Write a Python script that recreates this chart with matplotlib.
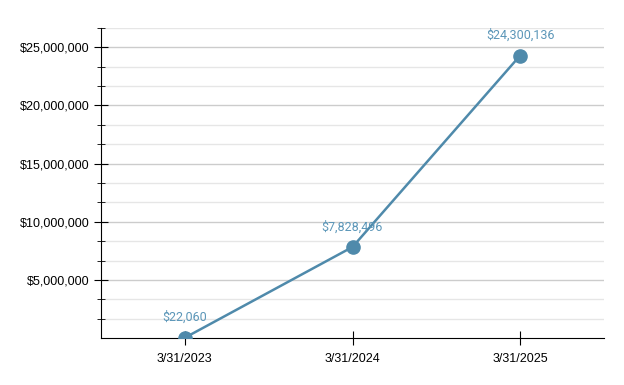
import numpy as np
import matplotlib.pyplot as plt
from matplotlib.ticker import FuncFormatter, FixedLocator

dates = ["3/31/2023", "3/31/2024", "3/31/2025"]
values = [22060, 7828496, 24300136]
labels = ["$22,060", "$7,828,496", "$24,300,136"]

fig = plt.figure(figsize=(6.24, 3.85), dpi=100)
ax = fig.add_axes([101 / 624, 1 - 338 / 385, 503 / 624, 310 / 385])

x = np.arange(len(dates))
ax.plot(x, values, color="#4f8aab", lw=1.8, marker="o", ms=9.5, zorder=3)

for xi, v, t in zip(x, values, labels):
    ax.annotate(t, (xi, v), xytext=(0, 12), textcoords="offset points", ha="center",
                color="#5b96b8", fontsize=9, family="Roboto", annotation_clip=False)

ax.set_xlim(-0.5, 2.5)
ax.set_ylim(0, 80e6 / 3)
ax.set_xticks(x)
ax.set_xticklabels(dates)
step = 5e6 / 3
ax.yaxis.set_major_locator(FixedLocator([5e6, 10e6, 15e6, 20e6, 25e6]))
ax.yaxis.set_minor_locator(FixedLocator([i * step for i in range(1, 17) if i % 3 != 0]))
ax.yaxis.set_major_formatter(FuncFormatter(lambda v, p: f"${v:,.0f}"))

ax.grid(axis="y", which="major", color="#cccccc", lw=1)
ax.grid(axis="y", which="minor", color="#e6e6e6", lw=1)
ax.set_axisbelow(True)

for s in ["top", "right"]:
    ax.spines[s].set_visible(False)
for s in ["left", "bottom"]:
    ax.spines[s].set_color("black")

ax.tick_params(axis="y", which="major", direction="inout", length=10, labelsize=9)
ax.tick_params(axis="y", which="minor", direction="inout", length=6)
ax.tick_params(axis="x", direction="inout", length=10, labelsize=9, pad=6)
for lbl in ax.get_xticklabels() + ax.get_yticklabels():
    lbl.set_family("Liberation Sans")

fig.savefig("out.png", dpi=100)
